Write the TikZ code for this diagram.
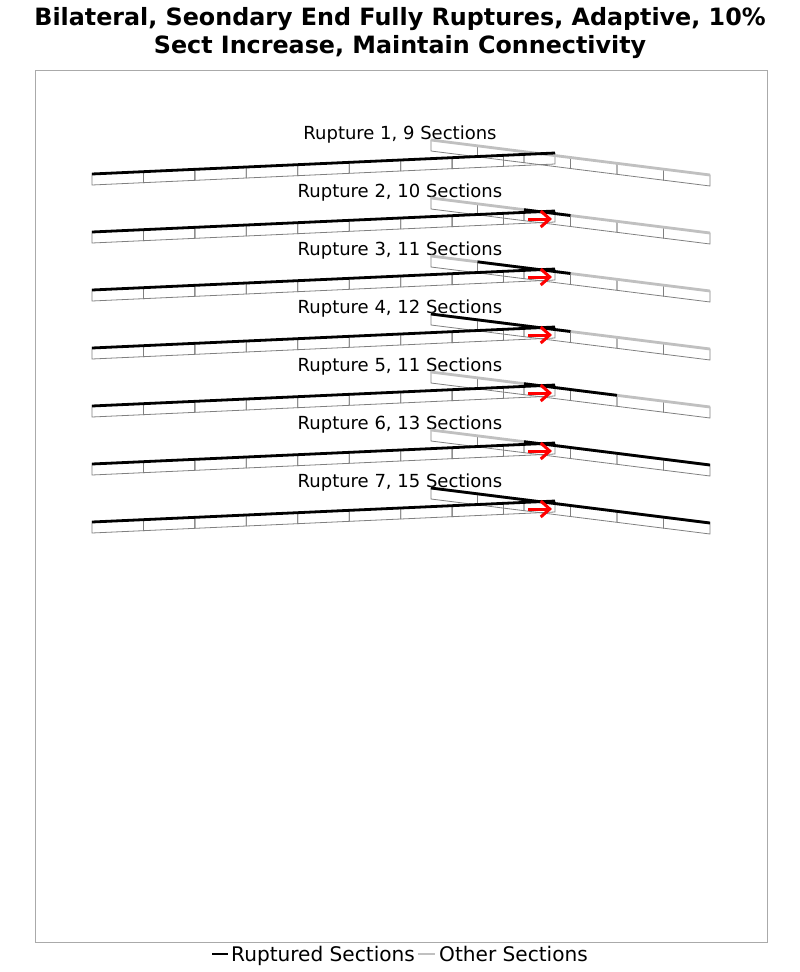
\documentclass[tikz,border=0pt]{standalone}
\usepackage{fontspec}
\setmainfont{DejaVu Sans}
\usetikzlibrary{arrows.meta}
\definecolor{othergray}{RGB}{192,192,192}
\definecolor{rectgray}{RGB}{128,128,128}
\definecolor{framegray}{RGB}{170,170,170}
\begin{document}
\begin{tikzpicture}[x=1pt,y=-1pt,
  sect/.style={draw=rectgray,line width=0.8pt},
  rup/.style={draw=black,line width=2.8pt},
  oth/.style={draw=othergray,line width=2.8pt},
  dirarrow/.style={draw=red,line width=3pt,-{Straight Barb[length=9pt,width=16pt]}},
  lbl/.style={font=\fontsize{18}{22}\selectfont,inner sep=0pt,anchor=base},
  leg/.style={font=\fontsize{20.1}{24}\selectfont,inner sep=0pt,anchor=base west},
  ttl/.style={font=\bfseries\fontsize{23.8}{28}\selectfont,inner sep=0pt,anchor=base},
 ]
\useasboundingbox (0,0) rectangle (800,972);
\fill[white] (0,0) rectangle (800,972);
\node[ttl] (title1) at (400,25) {Bilateral, Seondary End Fully Ruptures, Adaptive, 10\%};
\node[ttl] (title2) at (400,53) {Sect Increase, Maintain Connectivity};
\draw[framegray] (35.5,70.5) rectangle (767.5,942.5);
\foreach \r/\lab/\a/\b in {0/9/0/0, 1/10/2/3, 2/11/1/3, 3/12/0/3, 4/11/2/4, 5/13/2/6, 6/15/0/6} {
  \pgfmathsetmacro\dy{58*\r}
  \pgfmathtruncatemacro\n{\r+1}
  \node[lbl] (label\n) at (400,139+\dy) {Rupture \n, \lab\ Sections};
  % fault 1 sections
  \foreach \i in {0,...,8} {
    \draw[sect] (92+\i*51.444, 174-\i*2.3333+\dy) -- ++(51.444,-2.3333) -- ++(0,11) -- ++(-51.444,2.3333) -- cycle;
  }
  % fault 2 sections
  \foreach \j in {0,...,5} {
    \draw[sect] (431+\j*46.5, 140+\j*5.8333+\dy) -- ++(46.5,5.8333) -- ++(0,11) -- ++(-46.5,-5.8333) -- cycle;
  }
  \coordinate (f1s\n) at (92,174+\dy);
  \coordinate (f1e\n) at (555,153+\dy);
  \coordinate (f2s\n) at (431,140+\dy);
  \coordinate (f2e\n) at (710,175+\dy);
  \draw[oth] (f2s\n) -- (f2e\n);
  \ifnum\a<\b
    \draw[rup] (431+\a*46.5, 140+\a*5.8333+\dy) -- (431+\b*46.5, 140+\b*5.8333+\dy);
  \fi
  \draw[rup] (f1s\n) -- (f1e\n);
  \ifnum\r>0
    \coordinate (as\n) at (528,161+\dy);
    \coordinate (ae\n) at (552,161+\dy);
    \draw[dirarrow] (as\n) -- (ae\n);
  \fi
}
% legend
\coordinate (l1a) at (212,954);
\coordinate (l1b) at (228,954);
\draw[rup] (l1a) -- (l1b);
\node[leg] (legrup) at (231,961) {Ruptured Sections};
\coordinate (l2a) at (418,954);
\coordinate (l2b) at (435,954);
\draw[oth] (l2a) -- (l2b);
\node[leg] (legoth) at (439,961) {Other Sections};
\end{tikzpicture}
\end{document}
